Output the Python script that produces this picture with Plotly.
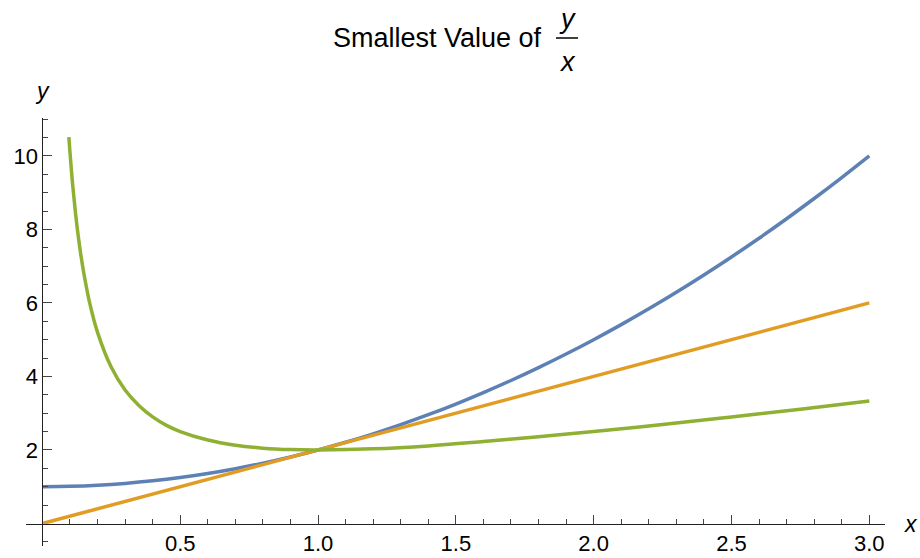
import plotly.graph_objects as go

# Data
blue_x = [0.0, 0.1, 0.2, 0.3, 0.4, 0.5, 0.6, 0.7, 0.8, 0.9, 1.0, 1.1, 1.2, 1.3, 1.4, 1.5,
          1.6, 1.7, 1.8, 1.9, 2.0, 2.1, 2.2, 2.3, 2.4, 2.5, 2.6, 2.7, 2.8, 2.9, 3.0]
blue_y = [1.00, 1.01, 1.04, 1.09, 1.16, 1.25, 1.36, 1.49, 1.64, 1.81, 2.00, 2.21, 2.44, 2.69,
          2.96, 3.25, 3.56, 3.89, 4.24, 4.61, 5.00, 5.41, 5.84, 6.29, 6.76, 7.25, 7.76, 8.29,
          8.84, 9.41, 10.00]

orange_x = [0.0, 1.0, 2.0, 3.0]
orange_y = [0.0, 2.0, 4.0, 6.0]

green_x = [0.096, 0.1, 0.11, 0.12, 0.13, 0.14, 0.15, 0.17, 0.2, 0.25, 0.3, 0.35, 0.4, 0.45,
           0.5, 0.6, 0.7, 0.8, 0.9, 1.0, 1.2, 1.4, 1.6, 1.8, 2.0, 2.25, 2.5, 2.75, 3.0]
green_y = [10.51, 10.10, 9.20, 8.45, 7.82, 7.28, 6.82, 6.05, 5.20, 4.25, 3.63, 3.21, 2.90, 2.67,
           2.50, 2.27, 2.13, 2.05, 2.01, 2.00, 2.03, 2.11, 2.23, 2.36, 2.50, 2.69, 2.90, 3.11, 3.33]

x_major = [0.5, 1.0, 1.5, 2.0, 2.5, 3.0]
x_major_text = ["0.5", "1.0", "1.5", "2.0", "2.5", "3.0"]
x_minor = [v / 10 for v in range(1, 30) if v % 5 != 0]
y_major = [2, 4, 6, 8, 10]
y_major_text = ["2", "4", "6", "8", "10"]
y_minor = [v / 2 for v in range(-1, 23) if v % 4 != 0]

title_text = "Smallest Value of"

FONT = "Liberation Sans, Arial, sans-serif"
XR = [-0.0595, 3.057]
YR = [-0.612, 11.03]

fig = go.Figure()
fig.add_trace(go.Scatter(x=blue_x, y=blue_y, mode="lines", line=dict(color="#5E81B5", width=3.5, shape="spline")))
fig.add_trace(go.Scatter(x=orange_x, y=orange_y, mode="lines", line=dict(color="#E19C24", width=3.5)))
fig.add_trace(go.Scatter(x=green_x, y=green_y, mode="lines", line=dict(color="#8FB032", width=3.5, shape="spline")))

axis_common = dict(showgrid=False, zeroline=False, showline=True, linecolor="#222", linewidth=1,
                   ticks="inside", ticklen=9, tickwidth=1, tickcolor="#444",
                   tickfont=dict(family=FONT, size=22, color="black"), anchor="free",
                   automargin=False, fixedrange=True)

fig.update_layout(
    width=920, height=558,
    margin=dict(l=26, r=35, t=118, b=12),
    plot_bgcolor="white", paper_bgcolor="white",
    showlegend=False,
    xaxis=dict(range=XR, tickvals=x_major, ticktext=x_major_text,
               position=(0 - YR[0]) / (YR[1] - YR[0]),
               minor=dict(tickvals=x_minor, ticks="inside", ticklen=5, tickcolor="#444", showgrid=False),
               **axis_common),
    yaxis=dict(range=YR, tickvals=y_major, ticktext=y_major_text,
               position=(0 - XR[0]) / (XR[1] - XR[0]),
               minor=dict(tickvals=y_minor, ticks="inside", ticklen=5, tickcolor="#444", showgrid=False),
               **axis_common),
)

# Title with stacked fraction y / x
fig.add_annotation(xref="paper", yref="paper", x=(437 - 26) / 859, y=(546 - 38) / 428,
                   text=title_text, showarrow=False, xanchor="center", yanchor="middle",
                   font=dict(family=FONT, size=27, color="black"))
fig.add_annotation(xref="paper", yref="paper", x=(567 - 26) / 859, y=(546 - 19) / 428,
                   text="<i>y</i>", showarrow=False, xanchor="center", yanchor="middle",
                   font=dict(family=FONT, size=27, color="black"))
fig.add_annotation(xref="paper", yref="paper", x=(567 - 26) / 859, y=(546 - 62) / 428,
                   text="<i>x</i>", showarrow=False, xanchor="center", yanchor="middle",
                   font=dict(family=FONT, size=27, color="black"))
fig.add_shape(type="line", xref="paper", yref="paper",
              x0=(556 - 26) / 859, x1=(578 - 26) / 859,
              y0=(546 - 38) / 428, y1=(546 - 38) / 428,
              line=dict(color="black", width=1.5))

# Axis labels
fig.add_annotation(xref="paper", yref="paper", x=(42 - 26) / 859, y=(546 - 91) / 428,
                   text="<i>y</i>", showarrow=False, xanchor="center", yanchor="middle",
                   font=dict(family=FONT, size=23, color="black"))
fig.add_annotation(xref="paper", yref="paper", x=(911 - 26) / 859, y=(546 - 524) / 428,
                   text="<i>x</i>", showarrow=False, xanchor="center", yanchor="middle",
                   font=dict(family=FONT, size=23, color="black"))

fig.write_html("out.html", config={"displayModeBar": False},
               post_script="document.body.style.margin='0';document.body.style.overflow='hidden';")
